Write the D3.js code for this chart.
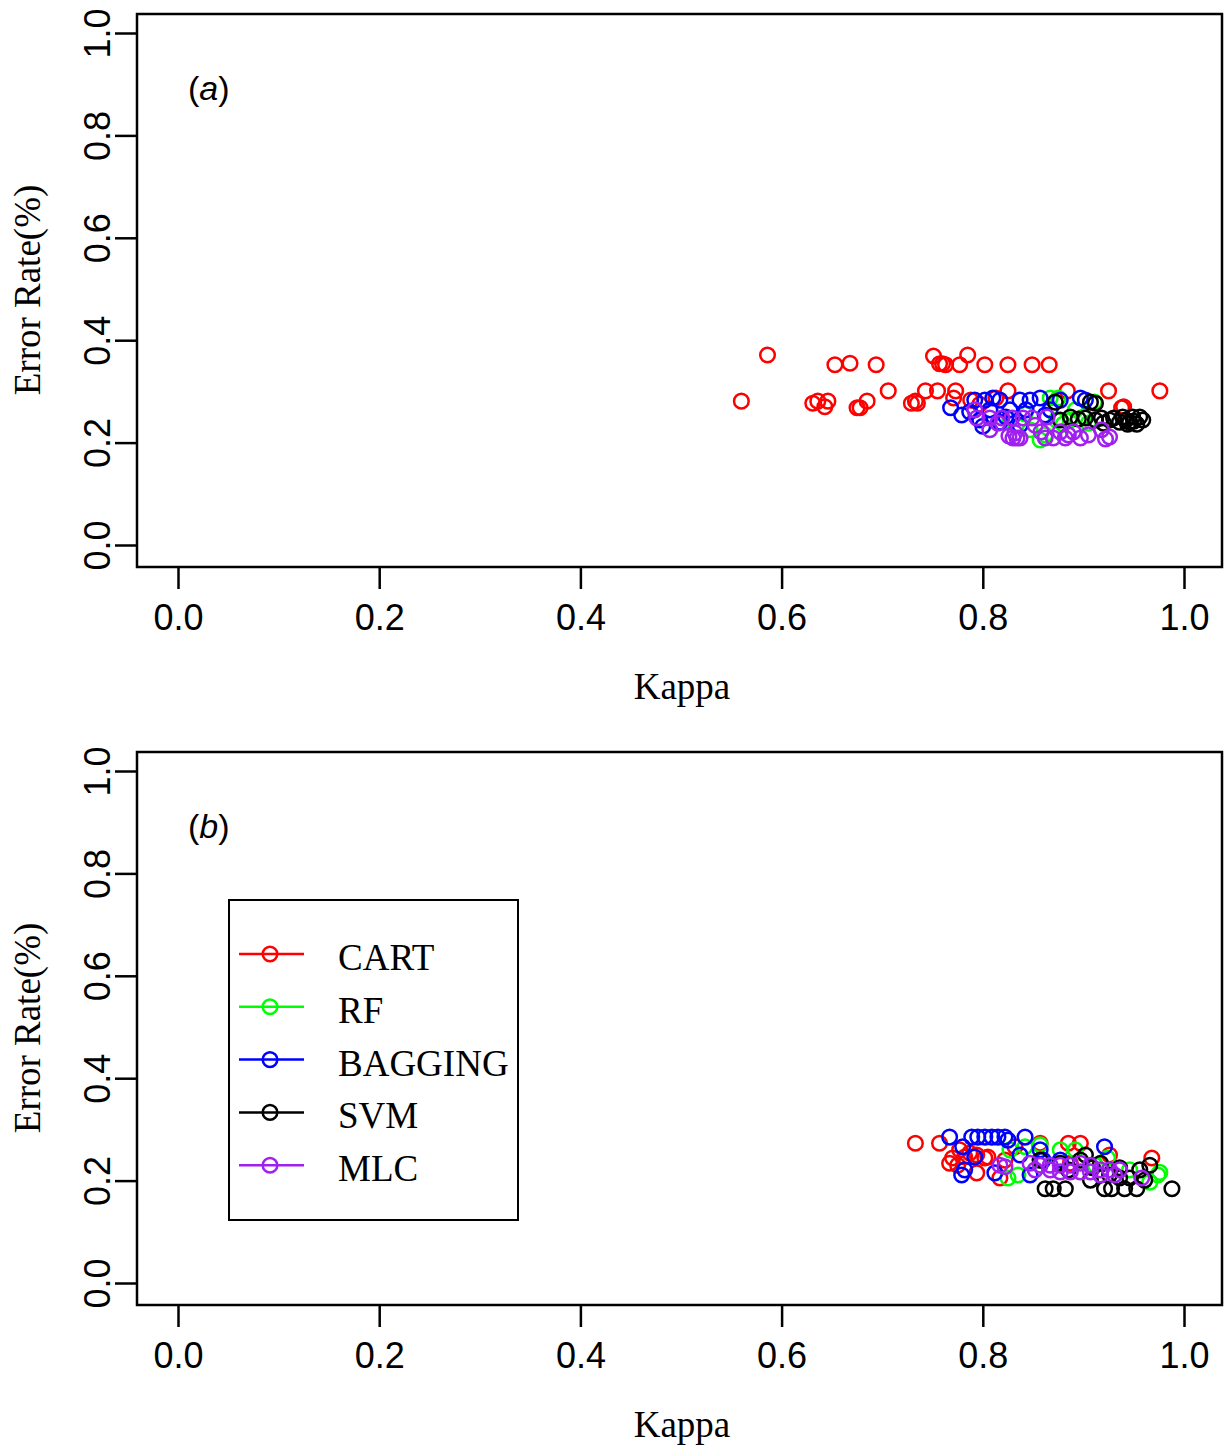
<!DOCTYPE html>
<html>
<head>
<meta charset="utf-8">
<script src="https://cdn.jsdelivr.net/npm/d3@7"></script>
<style>
html,body{margin:0;padding:0;background:#fff;}
svg{display:block;}
</style>
</head>
<body>
<script>
// ---------- data ----------
const seriesNames = ["CART", "RF", "BAGGING", "SVM", "MLC"];
const seriesColors = ["#FF0000", "#00FF00", "#0000FF", "#000000", "#A020F0"];
const xTicks = [0.0, 0.2, 0.4, 0.6, 0.8, 1.0];
const yTicks = [0.0, 0.2, 0.4, 0.6, 0.8, 1.0];
const panelLabels = ["a", "b"];

// Panel (a)
const cartA_x = [0.560,0.586,0.631,0.636,0.643,0.646,0.653,0.668,0.675,0.678,0.685,0.694,0.706,0.729,0.733,0.735,0.743,0.751,0.755,0.757,0.760,0.763,0.777,0.773,0.785,0.788,0.802,0.825,0.825,0.849,0.866,0.884,0.925,0.938,0.976,0.771,0.797,0.813,0.940];
const cartA_y = [0.281,0.371,0.277,0.281,0.270,0.281,0.352,0.355,0.268,0.268,0.281,0.352,0.301,0.277,0.281,0.277,0.301,0.369,0.301,0.354,0.354,0.352,0.352,0.301,0.371,0.283,0.352,0.352,0.301,0.352,0.352,0.301,0.301,0.268,0.301,0.287,0.275,0.287,0.270];
const rfA_x = [0.867,0.875,0.911,0.873,0.857,0.887,0.827,0.847,0.892,0.900,0.880,0.862,0.905,0.842];
const rfA_y = [0.287,0.287,0.279,0.244,0.205,0.244,0.244,0.225,0.264,0.250,0.236,0.215,0.238,0.256];
const bagA_x = [0.768,0.779,0.792,0.802,0.810,0.817,0.827,0.837,0.847,0.857,0.862,0.897,0.902,0.797,0.817,0.837,0.807,0.877,0.867,0.787,0.800,0.823,0.843];
const bagA_y = [0.268,0.254,0.283,0.283,0.287,0.283,0.264,0.283,0.283,0.287,0.254,0.287,0.283,0.244,0.240,0.234,0.264,0.283,0.264,0.260,0.232,0.250,0.264];
const svmA_x = [0.872,0.907,0.912,0.887,0.902,0.918,0.939,0.949,0.956,0.946,0.936,0.926,0.912,0.877,0.953,0.959,0.930,0.942,0.944,0.895,0.920,0.950];
const svmA_y = [0.279,0.279,0.277,0.250,0.248,0.248,0.250,0.250,0.250,0.240,0.240,0.244,0.244,0.244,0.236,0.244,0.248,0.244,0.236,0.246,0.238,0.242];
const mlcA_x = [0.794,0.807,0.819,0.829,0.840,0.849,0.792,0.807,0.830,0.834,0.837,0.832,0.864,0.877,0.890,0.905,0.918,0.926,0.870,0.862,0.882,0.897,0.852,0.815,0.826,0.858,0.885,0.922];
const mlcA_y = [0.248,0.248,0.248,0.248,0.248,0.248,0.264,0.225,0.209,0.209,0.209,0.219,0.250,0.221,0.221,0.215,0.225,0.211,0.209,0.209,0.209,0.209,0.234,0.238,0.213,0.221,0.215,0.207];

// Panel (b)
const cartB_x = [0.733,0.757,0.767,0.770,0.775,0.782,0.794,0.794,0.802,0.805,0.787,0.817,0.832,0.857,0.885,0.897,0.926,0.968,0.822,0.777,0.887];
const cartB_y = [0.273,0.273,0.234,0.244,0.230,0.246,0.215,0.250,0.244,0.246,0.254,0.205,0.266,0.273,0.273,0.273,0.250,0.244,0.240,0.260,0.234];
const rfB_x = [0.827,0.825,0.842,0.857,0.877,0.892,0.924,0.946,0.974,0.966,0.857,0.835,0.976,0.912];
const rfB_y = [0.260,0.205,0.266,0.270,0.260,0.260,0.244,0.221,0.211,0.197,0.240,0.211,0.216,0.230];
const bagB_x = [0.767,0.780,0.789,0.795,0.802,0.809,0.815,0.822,0.792,0.779,0.782,0.812,0.842,0.857,0.877,0.921,0.847,0.860,0.825,0.837];
const bagB_y = [0.285,0.266,0.285,0.285,0.285,0.285,0.285,0.285,0.246,0.211,0.221,0.215,0.285,0.260,0.240,0.266,0.211,0.240,0.279,0.250];
const svmB_x = [0.857,0.877,0.897,0.917,0.936,0.956,0.966,0.862,0.870,0.882,0.907,0.921,0.928,0.941,0.953,0.988,0.946,0.926,0.936,0.961,0.909,0.885,0.902];
const svmB_y = [0.240,0.234,0.240,0.234,0.225,0.221,0.230,0.184,0.184,0.184,0.201,0.184,0.184,0.184,0.184,0.184,0.205,0.211,0.205,0.201,0.225,0.221,0.250];
const mlcB_x = [0.817,0.847,0.857,0.867,0.877,0.887,0.897,0.907,0.917,0.926,0.936,0.958,0.867,0.877,0.897,0.917,0.931,0.852,0.822,0.907,0.887];
const mlcB_y = [0.230,0.234,0.230,0.230,0.230,0.230,0.234,0.230,0.221,0.221,0.221,0.205,0.221,0.217,0.217,0.211,0.211,0.221,0.227,0.217,0.217];

const panelA = [[cartA_x,cartA_y],[rfA_x,rfA_y],[bagA_x,bagA_y],[svmA_x,svmA_y],[mlcA_x,mlcA_y]];
const panelB = [[cartB_x,cartB_y],[rfB_x,rfB_y],[bagB_x,bagB_y],[svmB_x,svmB_y],[mlcB_x,mlcB_y]];

// ---------- drawing ----------
const W = 1228, H = 1446;
const svg = d3.select("body").append("svg").attr("width", W).attr("height", H);
const SANS = "'Liberation Sans', Arial, Helvetica, sans-serif";
const SERIF = "'Liberation Serif', 'Times New Roman', serif";
const R = 7.3, SW = 2.5;

function drawPanel(top, data, label, withLegend) {
  const box = {left: 137, right: 1222, top: top, bottom: top + 553};
  const x = d3.scaleLinear().domain([0, 1]).range([178, 1184]);
  const y = d3.scaleLinear().domain([0, 1]).range([top + 531, top + 19]);
  const g = svg.append("g");

  // box
  g.append("rect").attr("x", box.left).attr("y", box.top)
    .attr("width", box.right - box.left).attr("height", box.bottom - box.top)
    .attr("fill", "none").attr("stroke", "#000").attr("stroke-width", 2.5);

  // x axis
  const xAxis = d3.axisBottom(x).tickValues(xTicks).tickFormat(d3.format(".1f"))
    .tickSize(22).tickPadding(15);
  const gx = g.append("g").attr("transform", `translate(0,${box.bottom})`).call(xAxis);
  gx.select(".domain").remove();
  gx.selectAll(".tick line").attr("stroke", "#000").attr("stroke-width", 2.5);
  gx.selectAll(".tick text").attr("font-family", SANS).attr("font-size", 36).attr("fill", "#000");

  // y axis
  const yAxis = d3.axisLeft(y).tickValues(yTicks).tickFormat(d3.format(".1f"))
    .tickSize(22).tickPadding(10);
  const gy = g.append("g").attr("transform", `translate(${box.left},0)`).call(yAxis);
  gy.select(".domain").remove();
  gy.selectAll(".tick line").attr("stroke", "#000").attr("stroke-width", 2.5);
  gy.selectAll(".tick text")
    .attr("font-family", SANS).attr("font-size", 36).attr("fill", "#000")
    .attr("text-anchor", "middle").attr("dy", null).attr("x", null)
    .attr("transform", "translate(-40,0) rotate(-90)")
    .attr("dominant-baseline", "central");

  // axis titles
  g.append("text").attr("x", 682).attr("y", box.bottom + 132)
    .attr("text-anchor", "middle").attr("font-family", SERIF).attr("font-size", 37)
    .text("Kappa");
  g.append("text").attr("transform", `translate(40,${box.top + 276}) rotate(-90)`)
    .attr("text-anchor", "middle").attr("font-family", SERIF).attr("font-size", 37)
    .text("Error Rate(%)");

  // panel label
  const pl = g.append("text").attr("x", 188).attr("y", box.top + 86)
    .attr("font-family", SANS).attr("font-size", 34);
  pl.append("tspan").text("(");
  pl.append("tspan").attr("font-style", "italic").text(label);
  pl.append("tspan").text(")");

  // points
  data.forEach((s, i) => {
    const pts = s[0].map((v, k) => [v, s[1][k]]);
    g.append("g").selectAll("circle").data(pts).join("circle")
      .attr("cx", d => x(d[0])).attr("cy", d => y(d[1])).attr("r", R)
      .attr("fill", "none").attr("stroke", seriesColors[i]).attr("stroke-width", SW);
  });

  if (withLegend) {
    const lg = g.append("g");
    lg.append("rect").attr("x", 229).attr("y", top + 148).attr("width", 289).attr("height", 320)
      .attr("fill", "#fff").attr("stroke", "#000").attr("stroke-width", 2);
    seriesNames.forEach((n, i) => {
      const yy = top + 202 + i * 52.8;
      lg.append("line").attr("x1", 239).attr("x2", 304).attr("y1", yy).attr("y2", yy)
        .attr("stroke", seriesColors[i]).attr("stroke-width", SW);
      lg.append("circle").attr("cx", 270).attr("cy", yy).attr("r", R)
        .attr("fill", "none").attr("stroke", seriesColors[i]).attr("stroke-width", SW);
      lg.append("text").attr("x", 338).attr("y", yy + 16)
        .attr("font-family", SERIF).attr("font-size", 37).text(n);
    });
  }
}

drawPanel(14, panelA, panelLabels[0], false);
drawPanel(752, panelB, panelLabels[1], true);
</script>
</body>
</html>
